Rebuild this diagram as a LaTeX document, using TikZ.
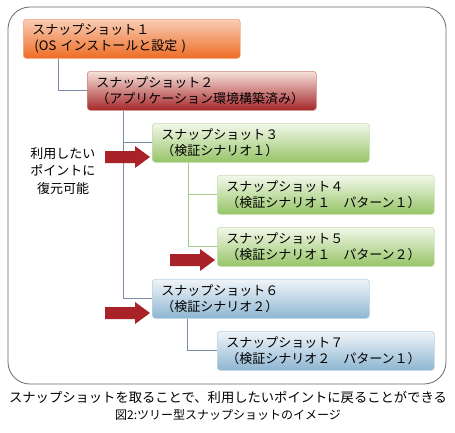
\documentclass[tikz,border=0pt]{standalone}
\usepackage{fontspec}
\setmainfont{Noto Sans CJK JP}
\definecolor{frame}{HTML}{6A6A6A}
\definecolor{oTop}{HTML}{F8CDB6}
\definecolor{oBot}{HTML}{EE6C24}
\definecolor{oEdge}{HTML}{F2A27A}
\definecolor{rTop}{HTML}{F6E2DA}
\definecolor{rBot}{HTML}{A6262A}
\definecolor{rEdge}{HTML}{D08880}
\definecolor{gTop}{HTML}{F2F8EA}
\definecolor{gBot}{HTML}{96C466}
\definecolor{gEdge}{HTML}{C4DEAA}
\definecolor{bTop}{HTML}{F0F4F8}
\definecolor{bBot}{HTML}{8EB6D2}
\definecolor{bEdge}{HTML}{B8D0E2}
\definecolor{lineBlue}{HTML}{7A8CAA}
\definecolor{lineGreen}{HTML}{A8C888}
\definecolor{arrowRed}{HTML}{A82228}
\tikzset{
  snapbox/.style={anchor=north west, rounded corners=3pt, minimum height=39pt,
    inner xsep=9pt, inner ysep=0pt, align=left,
    font=\fontsize{13}{16}\selectfont, line width=0.6pt},
  orangebox/.style={snapbox, draw=oEdge, top color=oTop, bottom color=oBot},
  redbox/.style={snapbox, draw=rEdge, top color=rTop, bottom color=rBot},
  greenbox/.style={snapbox, draw=gEdge, top color=gTop, bottom color=gBot},
  bluebox/.style={snapbox, draw=bEdge, top color=bTop, bottom color=bBot},
  link/.style={draw=lineBlue, line width=0.8pt},
  glink/.style={draw=lineGreen, line width=0.8pt},
  bigarrow/.pic={\fill[arrowRed] (-45,-6) -- (-15,-6) -- (-15,-11) -- (0,0) -- (-15,11) -- (-15,6) -- (-45,6) -- cycle;}
}
\begin{document}
\begin{tikzpicture}[x=1pt,y=-1pt]
\useasboundingbox (0,0) rectangle (455,432);
\draw[frame, line width=0.8pt, rounded corners=22pt] (8,7) rectangle (446,384);

\node[orangebox, text width=199pt] (b1) at (23,19) {スナップショット１\\\,(OS インストールと設定 )};
\node[redbox, text width=211pt] (b2) at (87,71) {スナップショット２\\（アプリケーション環境構築済み）};
\node[greenbox, text width=199pt] (b3) at (152,123) {スナップショット３\\（検証シナリオ１）};
\node[greenbox, text width=199pt] (b4) at (217,175) {スナップショット４\\（検証シナリオ１　パターン１）};
\node[greenbox, text width=199pt] (b5) at (217,227) {スナップショット５\\（検証シナリオ１　パターン２）};
\node[bluebox, text width=199pt] (b6) at (152,279) {スナップショット６\\（検証シナリオ２）};
\node[bluebox, text width=199pt] (b7) at (217,331) {スナップショット７\\（検証シナリオ２　パターン１）};

\coordinate (c1) at ([xshift=35pt]b1.south west);
\coordinate (c2) at ([xshift=36pt]b2.south west);
\coordinate (c3) at ([xshift=36pt]b3.south west);
\coordinate (c6) at ([xshift=35pt]b6.south west);
\draw[link] (c1) |- (b2.west);
\draw[link] (c2) |- (b3.west);
\draw[link] (c2) |- (b6.west);
\draw[glink] (c3) |- (b4.west);
\draw[glink] (c3) |- (b5.west);
\draw[link] (c6) |- (b7.west);

\pic (a1) at (150,157) {bigarrow};
\pic (a2) at (215,260) {bigarrow};
\pic (a3) at (150,313) {bigarrow};

\node[align=center, font=\fontsize{13}{17.5}\selectfont] (lbl) at (63,171) {利用したい\\ポイントに\\復元可能};

\node[font=\fontsize{13.3}{16}\selectfont] (cap1) at (228,397) {スナップショットを取ることで、利用したいポイントに戻ることができる};
\node[font=\fontsize{12}{14}\selectfont] (cap2) at (228,415) {図2:ツリー型スナップショットのイメージ};
\end{tikzpicture}
\end{document}
